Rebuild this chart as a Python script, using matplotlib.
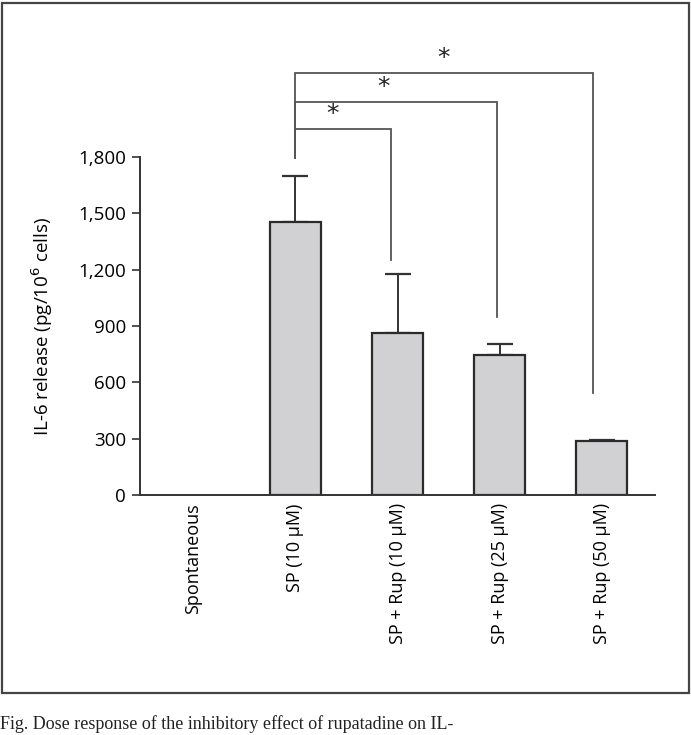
import matplotlib
matplotlib.use("Agg")
import matplotlib.pyplot as plt
from matplotlib.patches import Rectangle

categories = ["Spontaneous", "SP (10 µM)", "SP + Rup (10 µM)", "SP + Rup (25 µM)", "SP + Rup (50 µM)"]
means = [0, 1452, 864, 745, 290]
errors = [0, 245, 312, 60, 5]
yticks = [0, 300, 600, 900, 1200, 1500, 1800]
ytick_labels = ["0", "300", "600", "900", "1,200", "1,500", "1,800"]

# significance brackets
bracket_right = [1.94, 2.97, 3.91]
bracket_y = [1950, 2093, 2249]
bracket_right_bottom = [1252, 948, 543]
star_x = [1.36, 1.86, 2.45]

plt.rcParams['font.family'] = ['Open Sans', 'DejaVu Sans']
FS = 13.5

fig = plt.figure(figsize=(6.91, 7.35), dpi=100)
ax = fig.add_axes([140/691, 240/735, 515/691, (495-44.3)/735])

x = list(range(len(categories)))
edge = ["none" if m == 0 else "#2b2b2b" for m in means]
ax.bar(x, means, width=0.5, color="#d1d1d3", edgecolor=edge, linewidth=1.6, zorder=2)
ax.errorbar(x[1:], means[1:], yerr=[[0]*4, errors[1:]], fmt='none', ecolor="#333333",
            elinewidth=1.4, capsize=9.5, capthick=1.6, zorder=1)

ax.set_xlim(-0.52, 4.52)
ax.set_ylim(0, 2400)
ax.set_yticks(yticks)
ax.set_yticklabels(ytick_labels, fontsize=FS)
ax.set_xticks(x)
ax.set_xticklabels(categories, rotation=90, fontsize=13, va='top')
ax.tick_params(axis='x', length=0, pad=6)
ax.tick_params(axis='y', length=6, width=1.2, color="#333333", pad=4)
for s in ['top', 'right']:
    ax.spines[s].set_visible(False)
ax.spines['left'].set_bounds(0, 1800)
for s in ['left', 'bottom']:
    ax.spines[s].set_linewidth(1.4)
    ax.spines[s].set_color("#333333")

ax.set_ylabel("IL-6 release (pg/10$^{6}$ cells)", fontsize=FS)
ax.yaxis.set_label_coords(-0.165, 900/2400)

left_x = 1.0
left_bottom = 1795
for xr, yb, yr, sx in zip(bracket_right, bracket_y, bracket_right_bottom, star_x):
    ax.plot([left_x, left_x, xr, xr], [left_bottom, yb, yb, yr], color="#555555", lw=1.3,
            clip_on=False, solid_joinstyle='miter')
    ax.text(sx, yb + 15, "*", ha='center', va='bottom', fontsize=18, color="#222222",
            family=['DejaVu Sans'])

# frame
fig.patches.append(Rectangle((2/691, (735-693)/735), 687/691, 690/735, transform=fig.transFigure,
                             fill=False, edgecolor="#444444", linewidth=1.6))
fig.text(0.0, 2/735, "Fig. Dose response of the inhibitory effect of rupatadine on IL-",
         fontsize=13, family=['Liberation Serif'], va='bottom', ha='left', color="#222222")

fig.savefig("out.png", dpi=100)
